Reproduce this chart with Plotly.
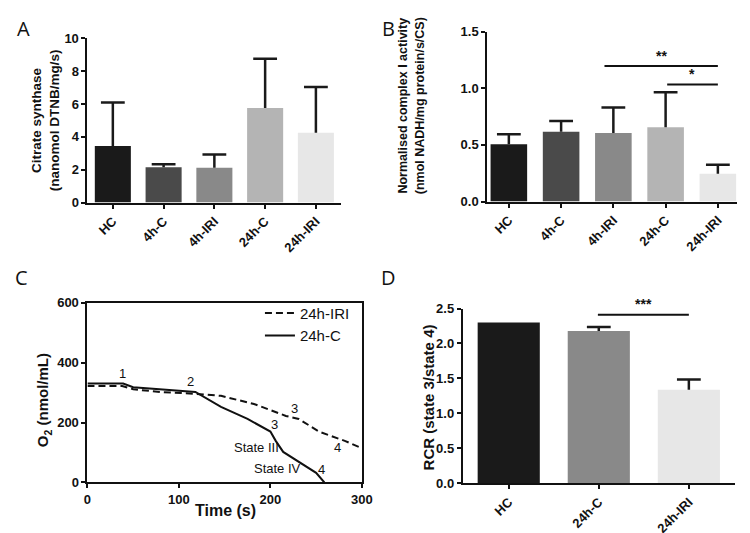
import plotly.graph_objects as go

W, H = 750, 533

# ---------------- data ----------------
groups5 = ["HC", "4h-C", "4h-IRI", "24h-C", "24h-IRI"]
colors5 = ["#1a1a1a", "#4a4a4a", "#898989", "#b4b4b4", "#e7e7e7"]

cs_mean = [3.45, 2.15, 2.12, 5.75, 4.25]
cs_err = [2.65, 0.18, 0.80, 3.00, 2.78]

c1_mean = [0.505, 0.615, 0.605, 0.655, 0.245]
c1_err = [0.09, 0.095, 0.225, 0.31, 0.08]

groups3 = ["HC", "24h-C", "24h-IRI"]
colors3 = ["#1a1a1a", "#898989", "#e7e7e7"]
rcr_mean = [2.30, 2.18, 1.34]
rcr_err = [0.0, 0.055, 0.145]

t_ctrl = [0, 39, 50, 80, 118, 146, 175, 200, 206, 214, 232, 250, 259]
o2_ctrl = [330, 330, 318, 311, 302, 252, 212, 170, 138, 102, 67, 32, 0]

t_iri = [0, 38, 50, 80, 118, 146, 182, 217, 231, 253, 282, 300]
o2_iri = [322, 322, 311, 302, 296, 289, 262, 222, 212, 170, 138, 114]

# ---------------- helpers ----------------
def px(x):
    return x / W

def py(y):
    return 1 - y / H

FAM = "Liberation Sans"
BOLD = dict(family=FAM, size=13, color="#111", weight="bold")
REG = dict(family=FAM, size=12, color="#111")

fig = go.Figure()


def add_bars(cats, means, errs, colors, width, xa, ya):
    fig.add_trace(go.Bar(x=cats, y=means, marker=dict(color=colors, line=dict(width=0)),
                         width=width, showlegend=False, xaxis=xa, yaxis=ya, hoverinfo="x+y"))
    # upper-only error bars: stem + cap
    sx, sy, cx, cy = [], [], [], []
    for c, m, e in zip(cats, means, errs):
        if e and e > 0:
            sx += [c, c, None]
            sy += [m, m + e, None]
            cx.append(c)
            cy.append(m + e)
    fig.add_trace(go.Scatter(x=sx, y=sy, mode="lines", line=dict(color="#1a1a1a", width=2.5),
                             showlegend=False, xaxis=xa, yaxis=ya, hoverinfo="skip"))
    fig.add_trace(go.Scatter(x=cx, y=cy, mode="markers",
                             marker=dict(symbol="line-ew-open", size=17, color="#1a1a1a",
                                         line=dict(color="#1a1a1a", width=2.5)),
                             showlegend=False, xaxis=xa, yaxis=ya, hoverinfo="skip"))


add_bars(groups5, cs_mean, cs_err, colors5, 0.71, "x", "y")
add_bars(groups5, c1_mean, c1_err, colors5, 0.70, "x2", "y2")

# Panel C
fig.add_trace(go.Scatter(x=t_iri, y=o2_iri, mode="lines", name="24h-IRI",
                         line=dict(color="#111", width=2, dash="7px,4px"),
                         xaxis="x3", yaxis="y3"))
fig.add_trace(go.Scatter(x=t_ctrl, y=o2_ctrl, mode="lines", name="24h-C",
                         line=dict(color="#111", width=2),
                         xaxis="x3", yaxis="y3"))

add_bars(groups3, rcr_mean, rcr_err, colors3, 0.69, "x4", "y4")

axis_common = dict(showline=True, linewidth=2, linecolor="#111", ticks="outside",
                   ticklen=4, tickwidth=2, tickcolor="#111", showgrid=False,
                   zeroline=False, tickfont=dict(BOLD, size=13))

fig.update_layout(
    width=W, height=H, margin=dict(l=0, r=0, t=0, b=0),
    paper_bgcolor="white", plot_bgcolor="white",
    font=dict(family=FAM),
    xaxis=dict(axis_common, domain=[px(77), px(336)], range=[-0.5, 4.5], tickangle=-45, anchor="y"),
    yaxis=dict(axis_common, domain=[py(193), py(24)], range=[0, 10], dtick=2, anchor="x"),
    xaxis2=dict(axis_common, domain=[px(485), px(740)], range=[-0.4125, 4.37], tickangle=-45, anchor="y2"),
    yaxis2=dict(axis_common, domain=[py(192), py(17)], range=[0, 1.5], dtick=0.5, tickformat=".1f", anchor="x2"),
    xaxis3=dict(axis_common, domain=[px(77), px(357)], range=[0, 300], dtick=100, mirror=True, anchor="y3"),
    yaxis3=dict(axis_common, domain=[py(481), py(296)], range=[0, 600], dtick=200, mirror=True, anchor="x3"),
    xaxis4=dict(axis_common, domain=[px(460), px(738)], range=[-0.51, 2.515], tickangle=-45, anchor="y4"),
    yaxis4=dict(axis_common, domain=[py(482), py(302)], range=[0, 2.5], dtick=0.5, tickformat=".1f", anchor="x4"),
    legend=dict(x=px(253), y=py(290), xanchor="left", yanchor="top",
                font=dict(family=FAM, size=15, color="#111"),
                bgcolor="rgba(0,0,0,0)", tracegroupgap=0, itemwidth=30),
)

# significance lines
sig_lines = [("x2", "y2", 1.83, 4.0, 1.195), ("x2", "y2", 3.03, 4.0, 1.033), ("x4", "y4", 0.99, 2.0, 2.41)]
for xr, yr, x0, x1, yv in sig_lines:
    fig.add_shape(type="line", xref=xr, yref=yr, x0=x0, x1=x1, y0=yv, y1=yv,
                  line=dict(color="#111", width=2))

ann = []
sig_text = [("x2", "y2", 2.92, 1.20, "**"), ("x2", "y2", 3.5, 1.035, "*"), ("x4", "y4", 1.5, 2.42, "***")]
for xr, yr, xv, yv, tx in sig_text:
    ann.append(dict(xref=xr, yref=yr, x=xv, y=yv, text=tx, showarrow=False,
                    yanchor="bottom", yshift=0,
                    font=dict(BOLD, size=14)))

# panel C labels
c_labels = [(38, 362, "1"), (113, 336, "2"), (226, 246, "3"), (204, 192, "3"),
            (185, 116, "State III"), (208, 45, "State IV"), (256, 43, "4"), (273, 116, "4")]
for tv, ov, tx in c_labels:
    ann.append(dict(xref="x3", yref="y3", x=tv, y=ov, text=tx, showarrow=False,
                    font=dict(REG, size=13)))

# axis titles
ann.append(dict(xref="paper", yref="paper", x=px(35), y=py(108), textangle=-90,
                text="Citrate synthase<br>(nanomol DTNB/mg/s)", showarrow=False,
                xanchor="center", yanchor="middle", font=dict(BOLD, size=13.5)))
ann.append(dict(xref="paper", yref="paper", x=px(408), y=py(93), textangle=-90,
                text="Normalised complex I activity<br>(nmol NADH/mg protein/s/CS)", showarrow=False,
                xanchor="center", yanchor="middle", font=dict(BOLD, size=12.5)))
ann.append(dict(xref="paper", yref="paper", x=px(33), y=py(396), textangle=-90,
                text="O<sub>2</sub> (nmol/mL)", showarrow=False,
                xanchor="center", yanchor="middle", font=dict(BOLD, size=15)))
ann.append(dict(xref="paper", yref="paper", x=px(218), y=py(510),
                text="Time (s)", showarrow=False,
                xanchor="center", yanchor="middle", font=dict(BOLD, size=16)))
ann.append(dict(xref="paper", yref="paper", x=px(425), y=py(394), textangle=-90,
                text="RCR (state 3/state 4)", showarrow=False,
                xanchor="center", yanchor="middle", font=dict(BOLD, size=15)))

# panel letters
for xx, yy, tx in [(12, 14, "A"), (384, 14, "B"), (10, 270, "C"), (384, 270, "D")]:
    ann.append(dict(xref="paper", yref="paper", x=px(xx), y=py(yy), text=tx, showarrow=False,
                    xanchor="center", yanchor="middle",
                    font=dict(family="Open Sans", size=20, color="#111")))

fig.update_layout(annotations=ann)
fig.write_html("out.html")
